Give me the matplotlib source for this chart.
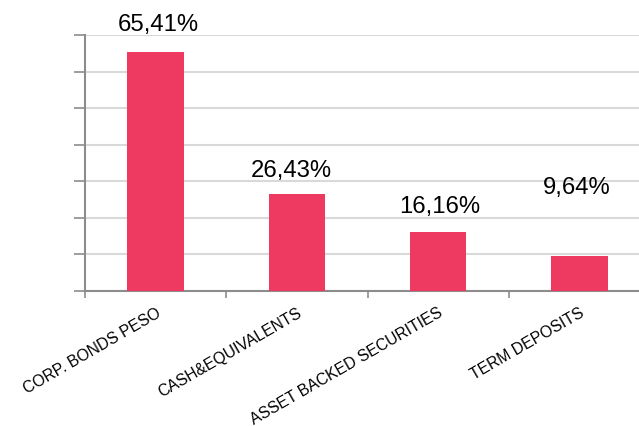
import numpy as np
import matplotlib
matplotlib.use('Agg')
import matplotlib.pyplot as plt

# data
categories = ['CORP. BONDS PESO', 'CASH&EQUIVALENTS', 'ASSET BACKED SECURITIES', 'TERM DEPOSITS']
values = [65.41, 26.43, 16.16, 9.64]
value_labels = ['65,41%', '26,43%', '16,16%', '9,64%']

# label placement relative to bar top (points)
label_dx = [1.8, -4.3, 1.4, -2.2]
label_dy = [15.1, 12.6, 13.7, 44.6]

plt.rcParams['font.family'] = ['Liberation Sans', 'DejaVu Sans']

fig = plt.figure(figsize=(6.39, 4.26), dpi=100)
ax = fig.add_axes([85 / 639, 135 / 426, 565 / 639, 256 / 426])

x = np.arange(len(categories))
bars = ax.bar(x, values, width=0.4, color='#EE3A60', zorder=3)

for xi, v, lab, dx, dy in zip(x, values, value_labels, label_dx, label_dy):
    ax.annotate(lab, (xi, v), xytext=(dx, dy), textcoords='offset points',
                ha='center', va='baseline', fontsize=17.2, color='black')

ax.set_xlim(-0.5, 3.5)
ax.set_ylim(0, 70)
ax.set_yticks(np.arange(0, 71, 10))
ax.set_yticklabels([])
ax.yaxis.grid(True, color='#D9D9D9', linewidth=1.5, zorder=0)
ax.set_axisbelow(True)

# category boundary ticks on x axis
ax.set_xticks(np.arange(-0.5, 3.6, 1.0))
ax.set_xticklabels([])
ax.tick_params(axis='x', length=5, width=1.2, color='#8C8C8C', direction='out')
ax.tick_params(axis='y', length=8, width=1.2, color='#8C8C8C', direction='out')

for xi, cat in zip(x, categories):
    ax.annotate(cat, (xi, 0), xytext=(0, -10.5), textcoords='offset points',
                ha='right', va='top', rotation=30, rotation_mode='anchor',
                fontsize=11.3, annotation_clip=False)

for s in ['top', 'right']:
    ax.spines[s].set_visible(False)
for s in ['left', 'bottom']:
    ax.spines[s].set_color('#8C8C8C')
    ax.spines[s].set_linewidth(1.5)

fig.savefig('out.png', dpi=100)
